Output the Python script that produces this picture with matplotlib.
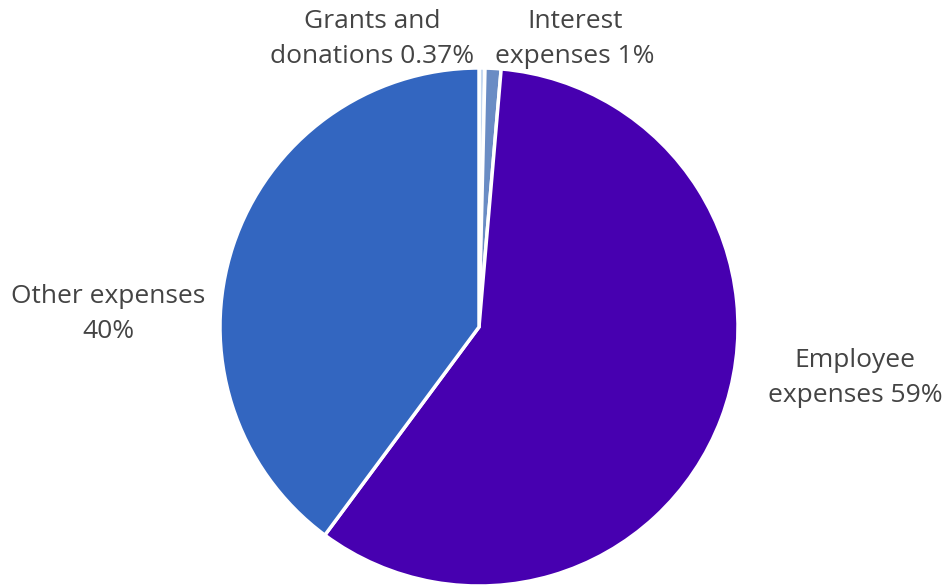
import numpy as np
import matplotlib.pyplot as plt

plt.rcParams['font.family'] = ['Open Sans', 'DejaVu Sans']

# expense breakdown, clockwise from 12 o'clock
names = ['Grants and\ndonations', 'Interest\nexpenses', 'Employee\nexpenses', 'Other expenses\n']
shares = [0.37, 1, 59, 40]
share_text = ['0.37%', '1%', '59%', '40%']
colors = ['#c6d9f1', '#6a8cc4', '#4700b0', '#3366c0']

# label anchor points (pixels, origin bottom-left)
label_xy = [(372, 548), (575, 548), (855, 209), (108, 273)]

fig = plt.figure(figsize=(9.46, 5.87), dpi=100)
ax = fig.add_axes([0, 0, 1, 1])

ax.pie(shares, colors=colors, startangle=90, counterclock=False,
       center=(479, 260), radius=259, normalize=True,
       wedgeprops=dict(edgecolor='white', linewidth=2.5))
ax.set_xlim(0, 946)
ax.set_ylim(0, 587)
ax.set_aspect('equal')
ax.axis('off')

for name, txt, (x, y) in zip(names, share_text, label_xy):
    label = name + txt if name.endswith('\n') else name + ' ' + txt
    ax.text(x, y, label, ha='center', va='center', fontsize=19,
            color='#444444', linespacing=1.52)

fig.savefig('out.png', dpi=100)
